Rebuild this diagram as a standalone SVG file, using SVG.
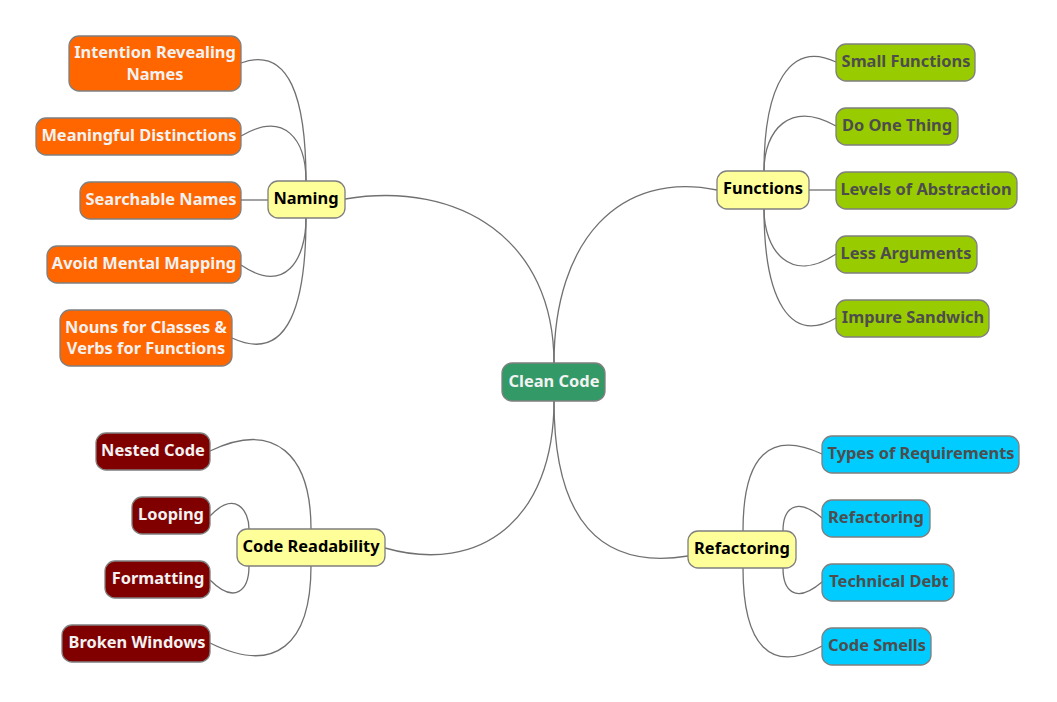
<svg xmlns="http://www.w3.org/2000/svg" width="1057" height="702" viewBox="0 0 1057 702">
<style>
.n rect{stroke:#7f7f7f;stroke-width:1.3}
text{font-family:"Noto Sans","Open Sans","DejaVu Sans",sans-serif;font-weight:bold;font-size:16.4px;text-anchor:middle}
.root rect{fill:#339966}.root text{fill:#f2f2f2}
.main rect{fill:#ffff99}.main text{fill:#000}
.or rect{fill:#ff6600}.or text{fill:#f2f2f2}
.gr rect{fill:#99cc00}.gr text{fill:#4d4d4d}
.rd rect{fill:#800000}.rd text{fill:#f2f2f2}
.cy rect{fill:#00ccff}.cy text{fill:#4d4d4d}
#connectors path{fill:none;stroke:#707070;stroke-width:1.3}
</style>
<rect width="1057" height="702" fill="#fff"/>
<g id="connectors">
<path d="M554,363 C554,240 460,180 345,199"/>
<path d="M554,363 C554,240 620,170 717,190"/>
<path d="M554,401 C554,520 480,575 385,548"/>
<path d="M554,401 C554,520 600,570 688,556"/>
<path d="M306,181 C306,100 290,45 241,63"/>
<path d="M306,181 C306,140 285,110 241,136"/>
<path d="M268,200 L241,200"/>
<path d="M306,218 C306,260 285,295 241,265"/>
<path d="M306,218 C306,300 290,365 232,338"/>
<path d="M764,171 C764,85 790,40 836,62"/>
<path d="M764,171 C764,130 790,100 836,126"/>
<path d="M809,190 L836,190"/>
<path d="M764,209 C764,250 790,285 836,254"/>
<path d="M764,209 C764,300 790,345 836,318"/>
<path d="M311,529 C311,455 275,420 210,451"/>
<path d="M249,529 C249,510 235,490 210,516"/>
<path d="M249,566 C249,590 235,605 210,580"/>
<path d="M311,566 C311,645 275,675 210,643"/>
<path d="M743,531 C743,455 770,430 822,454"/>
<path d="M783,531 C783,510 795,495 822,518"/>
<path d="M783,568 C783,590 795,605 822,582"/>
<path d="M743,568 C743,645 770,675 822,646"/>
</g>
<g id="clean-code" class="n root"><rect x="502" y="363" width="103" height="38" rx="10"/><text x="554" y="386.5">Clean Code</text></g>
<g id="naming" class="n main"><rect x="268" y="181" width="77" height="37" rx="10"/><text x="306" y="204">Naming</text></g>
<g id="functions" class="n main"><rect x="717" y="171" width="92" height="38" rx="10"/><text x="763" y="194">Functions</text></g>
<g id="code-readability" class="n main"><rect x="237" y="529" width="148" height="37" rx="10"/><text x="311" y="552">Code Readability</text></g>
<g id="refactoring" class="n main"><rect x="688" y="531" width="108" height="37" rx="10"/><text x="742" y="554">Refactoring</text></g>
<g id="intention" class="n or"><rect x="69" y="36" width="172" height="55" rx="10"/><text x="155" y="58">Intention Revealing</text><text x="155" y="80">Names</text></g>
<g id="meaningful" class="n or"><rect x="36" y="118" width="205" height="37" rx="10"/><text x="139" y="141">Meaningful Distinctions</text></g>
<g id="searchable" class="n or"><rect x="80" y="182" width="161" height="37" rx="10"/><text x="161" y="205">Searchable Names</text></g>
<g id="avoid" class="n or"><rect x="47" y="246" width="194" height="37" rx="10"/><text x="144" y="269">Avoid Mental Mapping</text></g>
<g id="nouns" class="n or"><rect x="60" y="310" width="172" height="56" rx="10"/><text x="146" y="333">Nouns for Classes &amp;</text><text x="146" y="354">Verbs for Functions</text></g>
<g id="small" class="n gr"><rect x="836" y="44" width="139" height="37" rx="10"/><text x="906" y="67">Small Functions</text></g>
<g id="one-thing" class="n gr"><rect x="836" y="108" width="122" height="37" rx="10"/><text x="897" y="131">Do One Thing</text></g>
<g id="levels" class="n gr"><rect x="836" y="172" width="181" height="37" rx="10"/><text x="926" y="195">Levels of Abstraction</text></g>
<g id="less" class="n gr"><rect x="836" y="236" width="141" height="37" rx="10"/><text x="906" y="259">Less Arguments</text></g>
<g id="impure" class="n gr"><rect x="836" y="300" width="153" height="37" rx="10"/><text x="913" y="323">Impure Sandwich</text></g>
<g id="nested" class="n rd"><rect x="96" y="433" width="114" height="37" rx="10"/><text x="153" y="456">Nested Code</text></g>
<g id="looping" class="n rd"><rect x="132" y="497" width="78" height="37" rx="10"/><text x="171" y="520">Looping</text></g>
<g id="formatting" class="n rd"><rect x="105" y="561" width="105" height="37" rx="10"/><text x="158" y="584">Formatting</text></g>
<g id="broken" class="n rd"><rect x="62" y="625" width="148" height="37" rx="10"/><text x="137" y="648">Broken Windows</text></g>
<g id="types" class="n cy"><rect x="822" y="436" width="197" height="37" rx="10"/><text x="921" y="459">Types of Requirements</text></g>
<g id="refactoring-2" class="n cy"><rect x="822" y="500" width="108" height="37" rx="10"/><text x="876" y="523">Refactoring</text></g>
<g id="debt" class="n cy"><rect x="822" y="564" width="132" height="37" rx="10"/><text x="889" y="587">Technical Debt</text></g>
<g id="smells" class="n cy"><rect x="822" y="628" width="109" height="37" rx="10"/><text x="877" y="651">Code Smells</text></g>
</svg>
